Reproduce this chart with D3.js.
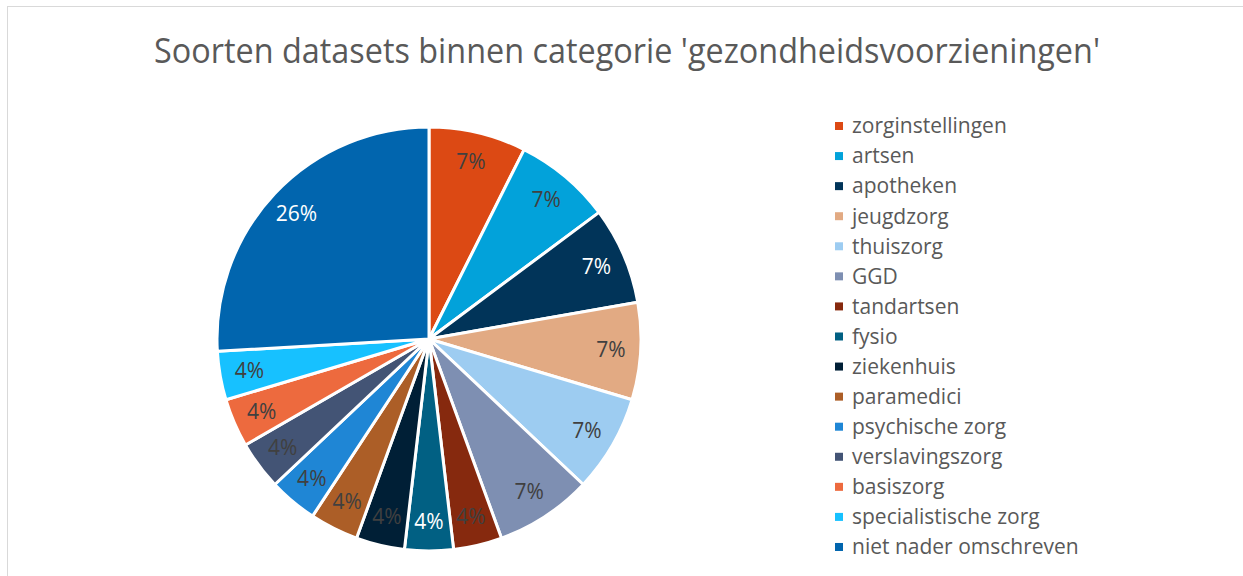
<!DOCTYPE html>
<html lang="nl">
<head>
<meta charset="utf-8">
<title>Soorten datasets</title>
<script src="https://d3js.org/d3.v7.min.js"></script>
<style>
  body { margin: 0; background: #fff; }
  svg { display: block; font-family: "Open Sans", "Noto Sans", sans-serif; }
</style>
</head>
<body>
<svg width="1243" height="576"></svg>
<script>
// categories and counts (27 datasets in total)
var categories = ["zorginstellingen", "artsen", "apotheken", "jeugdzorg", "thuiszorg", "GGD",
  "tandartsen", "fysio", "ziekenhuis", "paramedici", "psychische zorg", "verslavingszorg",
  "basiszorg", "specialistische zorg", "niet nader omschreven"];
var counts = [2, 2, 2, 2, 2, 2, 1, 1, 1, 1, 1, 1, 1, 1, 7];
var colors = ["#dc4914", "#02a2da", "#013459", "#e2aa83", "#9dccf1", "#7e8fb2",
  "#86290e", "#016083", "#001f36", "#ac5e27", "#1f86d5", "#435475",
  "#ed6a3e", "#17c1ff", "#0165ae"];
// slices whose label is white
var whiteLabels = ["apotheken", "fysio", "niet nader omschreven"];

var svg = d3.select("svg"),
    width = +svg.attr("width"),
    height = +svg.attr("height");

// chart area border
svg.append("rect")
    .attr("x", 7.5).attr("y", 6.5)
    .attr("width", width).attr("height", height)
    .attr("fill", "none").attr("stroke", "#d9d9d9");

svg.append("text")
    .attr("x", 627).attr("y", 63)
    .attr("text-anchor", "middle")
    .attr("font-size", 34)
    .attr("fill", "#595959")
    .attr("textLength", 946)
    .attr("lengthAdjust", "spacingAndGlyphs")
    .text("Soorten datasets binnen categorie 'gezondheidsvoorzieningen'");

var data = categories.map(function(c, i) { return {name: c, value: counts[i]}; });
var total = d3.sum(counts);
var fmt = d3.format(".0%");
var color = d3.scaleOrdinal().domain(categories).range(colors);

var radius = 212;
var pie = d3.pie().sort(null).value(function(d) { return d.value; });
var arc = d3.arc().innerRadius(0).outerRadius(radius);
var labelArc = d3.arc().innerRadius(radius * 0.86).outerRadius(radius * 0.86);

var g = svg.append("g").attr("transform", "translate(429,339)");

g.selectAll("path")
  .data(pie(data))
  .enter().append("path")
    .attr("d", arc)
    .attr("fill", function(d) { return color(d.data.name); })
    .attr("stroke", "#fff")
    .attr("stroke-width", 3)
    .attr("stroke-linejoin", "round");

g.selectAll("text.lbl")
  .data(pie(data))
  .enter().append("text")
    .attr("class", "lbl")
    .attr("transform", function(d) {
      var p = labelArc.centroid(d);
      return "translate(" + p[0] + "," + p[1] + ")";
    })
    .attr("text-anchor", "middle")
    .attr("dy", "0.35em")
    .attr("font-size", 21)
    .attr("fill", function(d) { return whiteLabels.indexOf(d.data.name) >= 0 ? "#fff" : "#404040"; })
    .text(function(d) { return fmt(d.data.value / total); });

// legend
var legend = svg.append("g").attr("transform", "translate(835,126)");
var item = legend.selectAll("g")
  .data(categories)
  .enter().append("g")
    .attr("transform", function(d, i) { return "translate(0," + (i * 30.07) + ")"; });

item.append("rect")
    .attr("x", 0).attr("y", -4)
    .attr("width", 8).attr("height", 8)
    .attr("fill", function(d) { return color(d); });

item.append("text")
    .attr("x", 17).attr("dy", "0.35em")
    .attr("font-size", 21)
    .attr("fill", "#595959")
    .text(function(d) { return d; });
</script>
</body>
</html>
